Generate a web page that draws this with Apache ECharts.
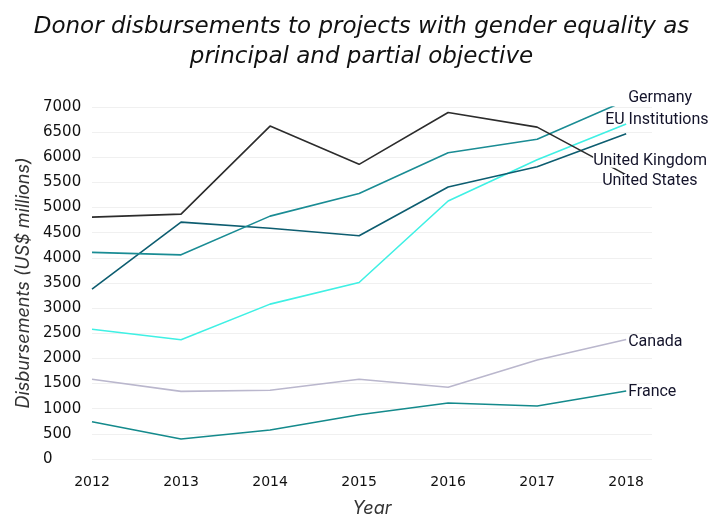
<!DOCTYPE html>
<html>
<head>
<meta charset="utf-8">
<script src="https://cdn.jsdelivr.net/npm/echarts@6/dist/echarts.min.js"></script>
<style>
  html, body { margin: 0; padding: 0; background: #fff; }
  #chart { width: 723px; height: 529px; }
</style>
</head>
<body>
<div id="chart"></div>
<script>
const years = [2012, 2013, 2014, 2015, 2016, 2017, 2018];
const unitedStates = [4810, 4870, 6620, 5860, 6890, 6600, 5650];
const germany = [4110, 4060, 4830, 5280, 6090, 6360, 7130];
const unitedKingdom = [3380, 4710, 4590, 4440, 5410, 5810, 6470];
const euInstitutions = [2580, 2370, 3080, 3510, 5130, 5950, 6660];
const canada = [1585, 1345, 1366, 1585, 1426, 1969, 2375];
const france = [742, 398, 577, 881, 1114, 1054, 1352];
const yTicks = [0, 500, 1000, 1500, 2000, 2500, 3000, 3500, 4000, 4500, 5000, 5500, 6000, 6500, 7000];

const pairs = vals => years.map((y, i) => [y, vals[i]]);

const seriesDefs = [
  { name: 'Canada', data: canada, color: '#bab7cd', offset: [0, 2], bg: null },
  { name: 'France', data: france, color: '#148a8c', offset: [0, 1], bg: null },
  { name: 'EU Institutions', data: euInstitutions, color: '#3ff0e4', offset: [-23, -4], bg: null },
  { name: 'United Kingdom', data: unitedKingdom, color: '#0d5d70', offset: [-35, 27], bg: '#fff' },
  { name: 'Germany', data: germany, color: '#1a8c94', offset: [0, -2], bg: null },
  { name: 'United States', data: unitedStates, color: '#2c2c2c', offset: [-26, 6], bg: '#fff' }
];

const chart = echarts.init(document.getElementById('chart'), null, { renderer: 'canvas' });
chart.setOption({
  backgroundColor: '#fff',
  animation: false,
  title: {
    text: 'Donor disbursements to projects with gender equality as\nprincipal and partial objective',
    left: 'center',
    top: 7,
    textStyle: { fontFamily: 'DejaVu Sans', fontStyle: 'italic', fontWeight: 'normal', fontSize: 23, lineHeight: 30, color: '#111' }
  },
  grid: { left: 92, right: 71, top: 107, bottom: 70 },
  xAxis: {
    type: 'value',
    min: 2012,
    max: 2018.29,
    interval: 1,
    name: 'Year',
    nameLocation: 'middle',
    nameGap: 41,
    nameTextStyle: { fontFamily: 'Inter', fontStyle: 'italic', fontSize: 18, color: '#333' },
    axisLine: { show: false },
    axisTick: { show: false },
    splitLine: { show: false },
    axisLabel: {
      showMaxLabel: false,
      margin: 16,
      fontFamily: 'DejaVu Sans',
      fontSize: 14,
      color: '#111',
      formatter: v => (years.indexOf(v) >= 0 ? String(v) : '')
    }
  },
  yAxis: {
    type: 'value',
    min: yTicks[0],
    max: yTicks[yTicks.length - 1],
    interval: 500,
    name: 'Disbursements (US$ millions)',
    nameLocation: 'middle',
    nameGap: 52,
    nameTextStyle: { fontFamily: 'Inter', fontStyle: 'italic', fontSize: 18, color: '#333' },
    axisLine: { show: false },
    axisTick: { show: false },
    splitLine: { show: true, lineStyle: { color: '#f0f0f0', width: 1 } },
    axisLabel: {
      align: 'left',
      margin: 49,
      fontFamily: 'DejaVu Sans',
      fontSize: 15,
      color: '#111',
      formatter: v => String(v)
    }
  },
  series: seriesDefs.map(s => ({
    name: s.name,
    type: 'line',
    data: pairs(s.data),
    symbol: 'none',
    lineStyle: { color: s.color, width: 1.6 },
    itemStyle: { color: s.color },
    endLabel: {
      show: true,
      formatter: s.name,
      distance: 2,
      offset: s.offset,
      fontFamily: 'Roboto',
      fontSize: 16,
      lineHeight: 14,
      color: '#14142b',
      backgroundColor: s.bg || 'transparent',
      padding: 0
    },
    labelLayout: { hideOverlap: false }
  }))
});
</script>
</body>
</html>
